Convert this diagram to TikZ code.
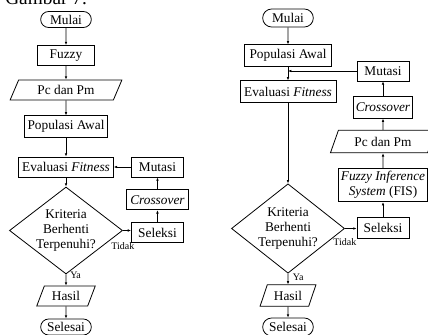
\documentclass[tikz,border=0pt]{standalone}
\usepackage{fontspec}
\setmainfont{Liberation Serif}
\usetikzlibrary{shapes.geometric,shapes.misc,arrows.meta,positioning,calc}
\tikzstyle{term}=[rounded rectangle,draw,line width=0.6pt,minimum width=40pt,minimum height=12pt,inner sep=1pt]
\tikzstyle{proc}=[rectangle,draw,line width=0.6pt,minimum height=15pt,inner xsep=1.5pt,inner ysep=1pt]
\tikzstyle{io}=[trapezium,draw,line width=0.6pt,trapezium left angle=66,trapezium right angle=114,trapezium stretches=true,minimum height=15pt,inner sep=1pt]
\tikzstyle{dec}=[diamond,draw,line width=0.6pt,aspect=1.3,inner sep=0pt,align=center]
\tikzstyle{lbl}=[inner sep=0.5pt,font=\fontsize{7.5}{8}\selectfont]
\tikzstyle{arr}=[line width=0.6pt,-{Latex[length=2.5pt,width=2pt]}]

\begin{document}
\begin{tikzpicture}[x=0.75pt,y=-0.75pt,font=\fontsize{10}{11}\selectfont]
	\clip (0,0) rectangle (428,335);
	% caption, cut off at the top
	\node (gcap) [anchor=base west,inner sep=0pt] at (5,4.5) {\fontsize{14.5}{16}\selectfont Gambar 7.};
	% left flowchart
	\node (lmulai) [term] at (66,19.5) {Mulai};
	\node (lfuzzy) [proc,minimum width=43pt] at (66,55.5) {Fuzzy};
	\node (lpcpm) [io,minimum width=84pt] at (66,90) {Pc dan Pm};
	\node (lpop) [proc,minimum width=62pt,minimum height=16pt] at (66,126.5) {Populasi Awal};
	\node (leval) [proc,minimum width=71pt] at (66,167) {Evaluasi \textit{Fitness}};
	\node (ldec) [dec,minimum width=84pt,minimum height=65pt] at (66,230.5) {Kriteria\\Berhenti\\Terpenuhi?};
	\node (lhasil) [io,minimum width=44pt] at (66,296) {Hasil};
	\node (lselesai) [term] at (66,327) {Selesai};
	\node (lmut) [proc,minimum width=39pt,right=13pt of leval] {Mutasi};
	\node (lcross) [proc,minimum width=46.5pt,below=9pt of lmut] {\textit{Crossover}};
	\node (lsel) [proc,minimum width=39pt,below=9pt of lcross] {Seleksi};
	\node (ltidak) [lbl,below=8pt of ldec.east] {Tidak};
	\node (lya) [lbl,anchor=west] at ([xshift=2.5pt,yshift=-1pt]ldec.south) {Ya};
	\draw[arr] (lmulai) -- (lfuzzy);
	\draw[arr] (lfuzzy) -- (lpcpm);
	\draw[arr] (lpcpm) -- (lpop);
	\draw[arr] (lpop) -- (leval);
	\draw[arr] (leval) -- (ldec);
	\draw[arr] (ldec) -- (lhasil);
	\draw[arr] (lhasil) -- (lselesai);
	\draw[arr] (ldec.east) -- (ldec.east -| lsel.west);
	\draw[arr] (lsel) -- (lcross);
	\draw[arr] (lcross) -- (lmut);
	\draw[arr] (lmut) -- (leval);
	% right flowchart
	\node (rmulai) [term,minimum height=13.5pt] at (288,18) {Mulai};
	\node (rpop) [proc,minimum width=65pt,minimum height=16pt] at (288,55.5) {Populasi Awal};
	\node (reval) [proc,minimum width=72pt,minimum height=16pt] at (288,91.5) {Evaluasi \textit{Fitness}};
	\node (rdec) [dec,minimum width=81pt,minimum height=67pt] at (288,228.5) {Kriteria\\Berhenti\\Terpenuhi?};
	\node (rhasil) [io,minimum width=42pt,minimum height=16pt] at (288,295.5) {Hasil};
	\node (rselesai) [term,minimum height=13.5pt] at (288,327) {Selesai};
	\node (rmut) [proc,minimum width=39pt] at (383,71) {Mutasi};
	\node (rcross) [proc,minimum width=42pt,minimum height=16pt] at (383,107.5) {\textit{Crossover}};
	\node (rpcpm) [io,minimum width=79pt,minimum height=17pt] at (383,141.5) {Pc dan Pm};
	\node (rfis) [proc,minimum width=64.5pt,minimum height=25pt,align=center] at (383,185) {\textit{Fuzzy Inference}\\\textit{System} (FIS)};
	\node (rsel) [proc,minimum width=39pt,minimum height=16pt] at (383,228) {Seleksi};
	\node (rtidak) [lbl,below=7pt of rdec.east] {Tidak};
	\node (rya) [lbl,anchor=west] at ([xshift=3pt,yshift=-3pt]rdec.south) {Ya};
	\coordinate (rjoin) at (rmut.west -| rpop.south);
	\draw[arr] (rmulai) -- (rpop);
	\draw[arr] (rpop) -- (reval);
	\draw[arr] (reval) -- (rdec);
	\draw[arr] (rdec) -- (rhasil);
	\draw[arr] (rhasil) -- (rselesai);
	\draw[arr] (rdec.east) -- (rdec.east -| rsel.west);
	\draw[arr] (rsel) -- (rfis);
	\draw[arr] (rfis) -- (rpcpm);
	\draw[arr] (rpcpm) -- (rcross);
	\draw[arr] (rcross) -- (rmut);
	\draw[arr] (rmut.west) -- (rjoin);
\end{tikzpicture}
\end{document}
